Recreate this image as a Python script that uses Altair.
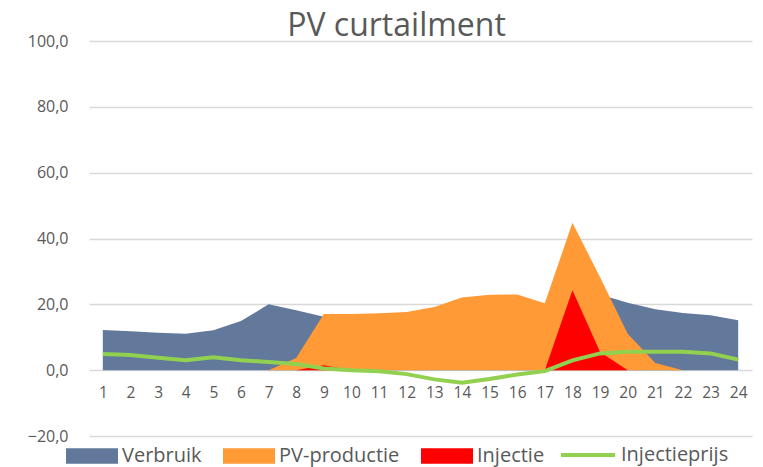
import altair as alt
import pandas as pd

hours = list(range(1, 25))
verbruik = [12.2, 11.8, 11.4, 11.1, 12.1, 14.9, 20.0, 18.2, 16.2, 16.0, 16.2, 16.5, 17.0,
            17.5, 18.0, 18.5, 19.0, 21.0, 23.0, 20.5, 18.5, 17.4, 16.7, 15.2]
pv_productie = [0, 0, 0, 0, 0, 0, 0, 3.7, 17.1, 17.1, 17.3, 17.7, 19.2,
                22.1, 22.9, 23.0, 20.3, 44.8, 28.2, 11.1, 2.2, 0, 0, 0]
injectie = [0, 0, 0, 0, 0, 0, 0, 0, 1.5, 0, 0, 0, 0,
            0, 0, 0, 0, 24.3, 5.5, 0, 0, 0, 0, 0]
injectieprijs = [4.9, 4.6, 3.8, 3.0, 3.9, 3.0, 2.5, 1.9, 0.5, 0.0, -0.3, -1.2, -2.8,
                 -3.8, -2.7, -1.3, -0.3, 3.0, 5.1, 5.6, 5.6, 5.6, 5.1, 3.2]

area_names = ["Verbruik", "PV-productie", "Injectie"]
area_colors = ["#62799b", "#ff9a36", "#ff0000"]
line_name = "Injectieprijs"
line_color = "#92d050"
y_ticks = [-20, 0, 20, 40, 60, 80, 100]

rows = []
for order, (name, vals) in enumerate(zip(area_names, [verbruik, pv_productie, injectie])):
    for h, v in zip(hours, vals):
        rows.append({"uur": h, "waarde": v, "reeks": name, "volgorde": order})
area_df = pd.DataFrame(rows)
line_df = pd.DataFrame({"uur": hours, "waarde": injectieprijs, "reeks": line_name})

W, H = 663, 395
GRAY = "#595959"
FONT = "Open Sans"

x_scale = alt.Scale(domain=[0.5, 24.5], nice=False, zero=False)
y_scale = alt.Scale(domain=[-20, 100], nice=False)

rect_path = "M-1,-0.3H1V0.3H-1Z"

x_axis = alt.Axis(values=hours, title=None, grid=False, domain=False, ticks=False,
                  labelFontSize=15.5, labelColor=GRAY, labelFont=FONT,
                  labelOverlap=False, labelFlush=False, labelBound=False,
                  labelSeparation=0, tickCount=24,
                  offset=-H / 6, labelPadding=15, format="d")
y_axis = alt.Axis(values=y_ticks, title=None, domain=False, ticks=False,
                  grid=True, gridColor="#d9d9d9", gridWidth=1.3,
                  labelFontSize=16, labelColor=GRAY, labelFont=FONT,
                  labelPadding=21,
                  labelExpr="replace(format(datum.value, '.1f'), '.', ',')")

LEG_Y = H - 6

areas = alt.Chart(area_df).mark_area(opacity=1, interpolate="linear").encode(
    x=alt.X("uur:Q", scale=x_scale, axis=x_axis),
    y=alt.Y("waarde:Q", scale=y_scale, stack=None, axis=y_axis),
    fill=alt.Fill("reeks:N", scale=alt.Scale(domain=area_names, range=area_colors),
                  sort=area_names,
                  legend=alt.Legend(title=None, orient="none", direction="horizontal",
                                    legendX=66 - 89, legendY=LEG_Y,
                                    symbolType=rect_path, symbolSize=2704,
                                    symbolStrokeWidth=0, symbolOpacity=1,
                                    labelFontSize=20, labelColor=GRAY, labelFont=FONT,
                                    labelOffset=4, columnPadding=21)),
    order=alt.Order("volgorde:Q"),
    detail="reeks:N",
)

line = alt.Chart(line_df).mark_line(strokeWidth=4, interpolate="linear").encode(
    x=alt.X("uur:Q", scale=x_scale, axis=x_axis),
    y=alt.Y("waarde:Q", scale=y_scale, axis=y_axis),
    stroke=alt.Stroke("reeks:N", scale=alt.Scale(domain=[line_name], range=[line_color]),
                      legend=alt.Legend(title=None, orient="none", direction="horizontal",
                                        legendX=559 - 89, legendY=LEG_Y - 4,
                                        symbolType="stroke", symbolSize=2916,
                                        symbolStrokeWidth=4,
                                        labelFontSize=20, labelColor=GRAY, labelFont=FONT,
                                        labelOffset=4)),
)

chart = alt.layer(areas, line).resolve_scale(fill="independent", stroke="independent").properties(
    width=W, height=H,
    title=alt.TitleParams("PV curtailment", fontSize=32, color=GRAY, font=FONT,
                          fontWeight="normal", anchor="middle", dx=-24, offset=-10),
    autosize=alt.AutoSizeParams(type="none"),
    padding={"left": 81, "top": 33, "right": 3, "bottom": 31},
).configure_view(stroke=None).configure_axis(labelOverlap=False)

chart.save("out.html", embed_options={"renderer": "svg", "actions": False})
